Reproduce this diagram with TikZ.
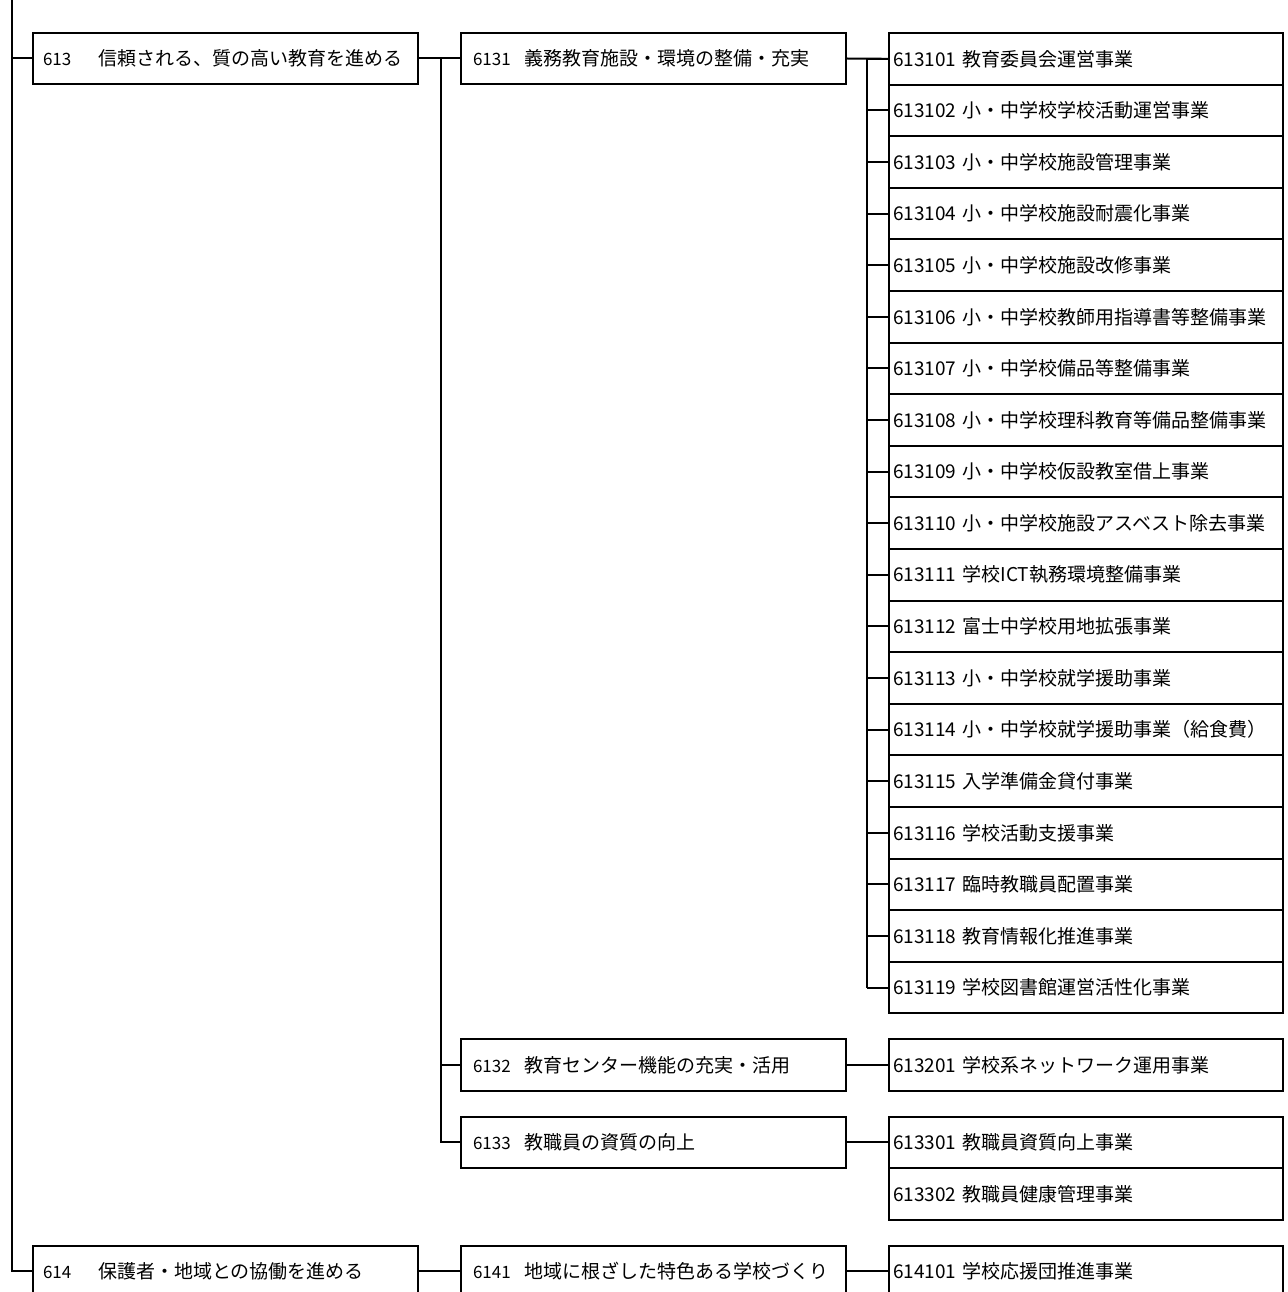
\documentclass[tikz,border=0pt]{standalone}
\usepackage{fontspec}
\setmainfont{Noto Sans CJK JP}
\newcommand{\numf}{\fontsize{17}{18}\selectfont}
\tikzset{
  conn/.style={line width=2pt},
  boxbase/.style={draw, line width=2pt, rectangle, anchor=west, minimum height=51.6pt, align=left, font=\fontsize{19}{22}\selectfont},
  lvone/.style={boxbase, minimum width=385pt, inner xsep=10pt, text width=365pt},
  lvtwo/.style={boxbase, minimum width=385pt, inner xsep=12pt, text width=361pt},
  leaf/.style={boxbase, minimum width=394pt, inner xsep=4pt, text width=386pt},
}
\begin{document}
\begin{tikzpicture}[x=1pt,y=-1pt]
\useasboundingbox (0,0) rectangle (1287,1292);
\clip (0,0) rectangle (1287,1292);

% level 1
\node[lvone] (n613) at (32,58.5) {\makebox[55pt][l]{\numf 613}信頼される、質の高い教育を進める};
\node[lvone] (n614) at (32,1271.4) {\makebox[55pt][l]{\numf 614}保護者・地域との協働を進める};

% level 2
\node[lvtwo] (n6131) at (460,58.5) {\makebox[51pt][l]{\numf 6131}義務教育施設・環境の整備・充実};
\node[lvtwo] (n6132) at (460,1065) {\makebox[51pt][l]{\numf 6132}教育センター機能の充実・活用};
\node[lvtwo] (n6133) at (460,1142.4) {\makebox[51pt][l]{\numf 6133}教職員の資質の向上};
\node[lvtwo] (n6141) at (460,1271.4) {\makebox[51pt][l]{\numf 6141}地域に根ざした特色ある学校づくり};

% trunk
\coordinate (vone) at (12,0);
\draw[conn] (vone) |- (n614.west);
\draw[conn] (vone |- n613.west) -- (n613.west);
\draw[conn] (n613.east) -- (n6131.west);
\draw[conn] (n614.east) -- (n6141.west);

% level 2 branch
\coordinate (vtwo) at (441,58.5);
\draw[conn] (vtwo) |- (n6133.west);
\draw[conn] (vtwo |- n6132.west) -- (n6132.west);

% leaves of 6131
\coordinate (vthree) at (867,58.5);
\foreach \n/\t [count=\i] in {
  613101/教育委員会運営事業,
  613102/小・中学校学校活動運営事業,
  613103/小・中学校施設管理事業,
  613104/小・中学校施設耐震化事業,
  613105/小・中学校施設改修事業,
  613106/小・中学校教師用指導書等整備事業,
  613107/小・中学校備品等整備事業,
  613108/小・中学校理科教育等備品整備事業,
  613109/小・中学校仮設教室借上事業,
  613110/小・中学校施設アスベスト除去事業,
  613111/学校ICT執務環境整備事業,
  613112/富士中学校用地拡張事業,
  613113/小・中学校就学援助事業,
  613114/小・中学校就学援助事業（給食費）,
  613115/入学準備金貸付事業,
  613116/学校活動支援事業,
  613117/臨時教職員配置事業,
  613118/教育情報化推進事業,
  613119/学校図書館運営活性化事業}{
  \node[leaf] (L\i) at (888,{7.2+51.6*\i}) {\n\ \t};
  \draw[conn] (vthree |- L\i.west) -- (L\i.west);
}
\draw[conn] (vthree) -- (vthree |- L19.west);
\draw[conn] (n6131.east) -- (L1.west);

% other leaves
\node[leaf] (L613201) at (888,1065) {613201 学校系ネットワーク運用事業};
\node[leaf] (L613301) at (888,1142.4) {613301 教職員資質向上事業};
\node[leaf] (L613302) at (888,1194) {613302 教職員健康管理事業};
\node[leaf] (L614101) at (888,1271.4) {614101 学校応援団推進事業};
\draw[conn] (n6132.east) -- (L613201.west);
\draw[conn] (n6133.east) -- (L613301.west);
\draw[conn] (n6141.east) -- (L614101.west);
\end{tikzpicture}
\end{document}
